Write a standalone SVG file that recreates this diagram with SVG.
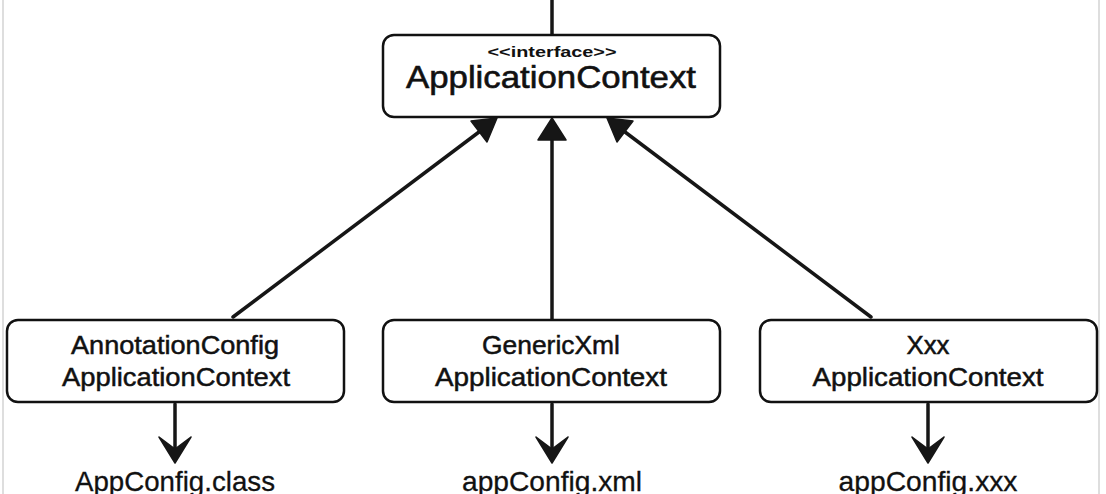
<svg xmlns="http://www.w3.org/2000/svg" width="1106" height="494" viewBox="0 0 1106 494">
<defs>
<style>
.box{fill:#fff;stroke:#111;stroke-width:2.5}
.t{font-family:"Liberation Sans",Arial,sans-serif;fill:#111;text-anchor:middle}
.m{font-size:26px;stroke:#111;stroke-width:0.5}
.big{font-size:32px;stroke:#111;stroke-width:0.6}
.small{font-size:15px;font-weight:bold}
.lbl{font-size:28px;stroke:#111;stroke-width:0.3}
.ln{stroke:#161616;stroke-width:3.5;fill:none;stroke-linecap:round}
.hd{fill:#161616;stroke:#161616;stroke-width:1.5;stroke-linejoin:round}
.edge{stroke:#dedede;stroke-width:2}
</style>
</defs>
<rect width="1106" height="494" fill="#fff"/>
<line class="edge" x1="3" y1="0" x2="3" y2="494"/>
<line class="edge" x1="1099" y1="0" x2="1099" y2="494"/>
<g id="connectors">
<line class="ln" x1="552" y1="0" x2="552" y2="34"/>
<line class="ln" x1="233" y1="317" x2="479" y2="132"/>
<polygon class="hd" points="497,118 487,142 471,121"/>
<line class="ln" x1="552" y1="319" x2="552" y2="138"/>
<polygon class="hd" points="552,118 566,140 538,140"/>
<line class="ln" x1="871" y1="317" x2="625" y2="132"/>
<polygon class="hd" points="607,118 617,142 633,121"/>
<line class="ln" x1="175" y1="404" x2="175" y2="456"/>
<path class="hd" d="M159,437 L175,463 L191,437 L175,449 Z"/>
<line class="ln" x1="552" y1="404" x2="552" y2="456"/>
<path class="hd" d="M536,437 L552,463 L568,437 L552,449 Z"/>
<line class="ln" x1="928" y1="404" x2="928" y2="456"/>
<path class="hd" d="M912,437 L928,463 L944,437 L928,449 Z"/>
</g>
<g id="applicationContext">
<rect class="box" x="383" y="35" width="337" height="82" rx="11"/>
<text class="t small" x="552" y="57" textLength="129" lengthAdjust="spacingAndGlyphs">&lt;&lt;interface&gt;&gt;</text>
<text class="t big" x="551" y="88" textLength="290" lengthAdjust="spacingAndGlyphs">ApplicationContext</text>
</g>
<g id="annotationConfig">
<rect class="box" x="7" y="320" width="337" height="82" rx="11"/>
<text class="t m" x="175" y="354" textLength="208" lengthAdjust="spacingAndGlyphs">AnnotationConfig</text>
<text class="t m" x="176" y="386" textLength="228" lengthAdjust="spacingAndGlyphs">ApplicationContext</text>
</g>
<g id="genericXml">
<rect class="box" x="383" y="320" width="337" height="82" rx="11"/>
<text class="t m" x="551" y="354" textLength="138" lengthAdjust="spacingAndGlyphs">GenericXml</text>
<text class="t m" x="551" y="386" textLength="232" lengthAdjust="spacingAndGlyphs">ApplicationContext</text>
</g>
<g id="xxx">
<rect class="box" x="760" y="320" width="337" height="82" rx="11"/>
<text class="t m" x="928" y="354" textLength="43" lengthAdjust="spacingAndGlyphs">Xxx</text>
<text class="t m" x="928" y="386" textLength="231" lengthAdjust="spacingAndGlyphs">ApplicationContext</text>
</g>
<g id="appConfigClass">
<text class="t lbl" x="175" y="491" textLength="200" lengthAdjust="spacingAndGlyphs">AppConfig.class</text>
</g>
<g id="appConfigXml">
<text class="t lbl" x="552" y="491" textLength="180" lengthAdjust="spacingAndGlyphs">appConfig.xml</text>
</g>
<g id="appConfigXxx">
<text class="t lbl" x="928" y="491" textLength="179" lengthAdjust="spacingAndGlyphs">appConfig.xxx</text>
</g>
</svg>
